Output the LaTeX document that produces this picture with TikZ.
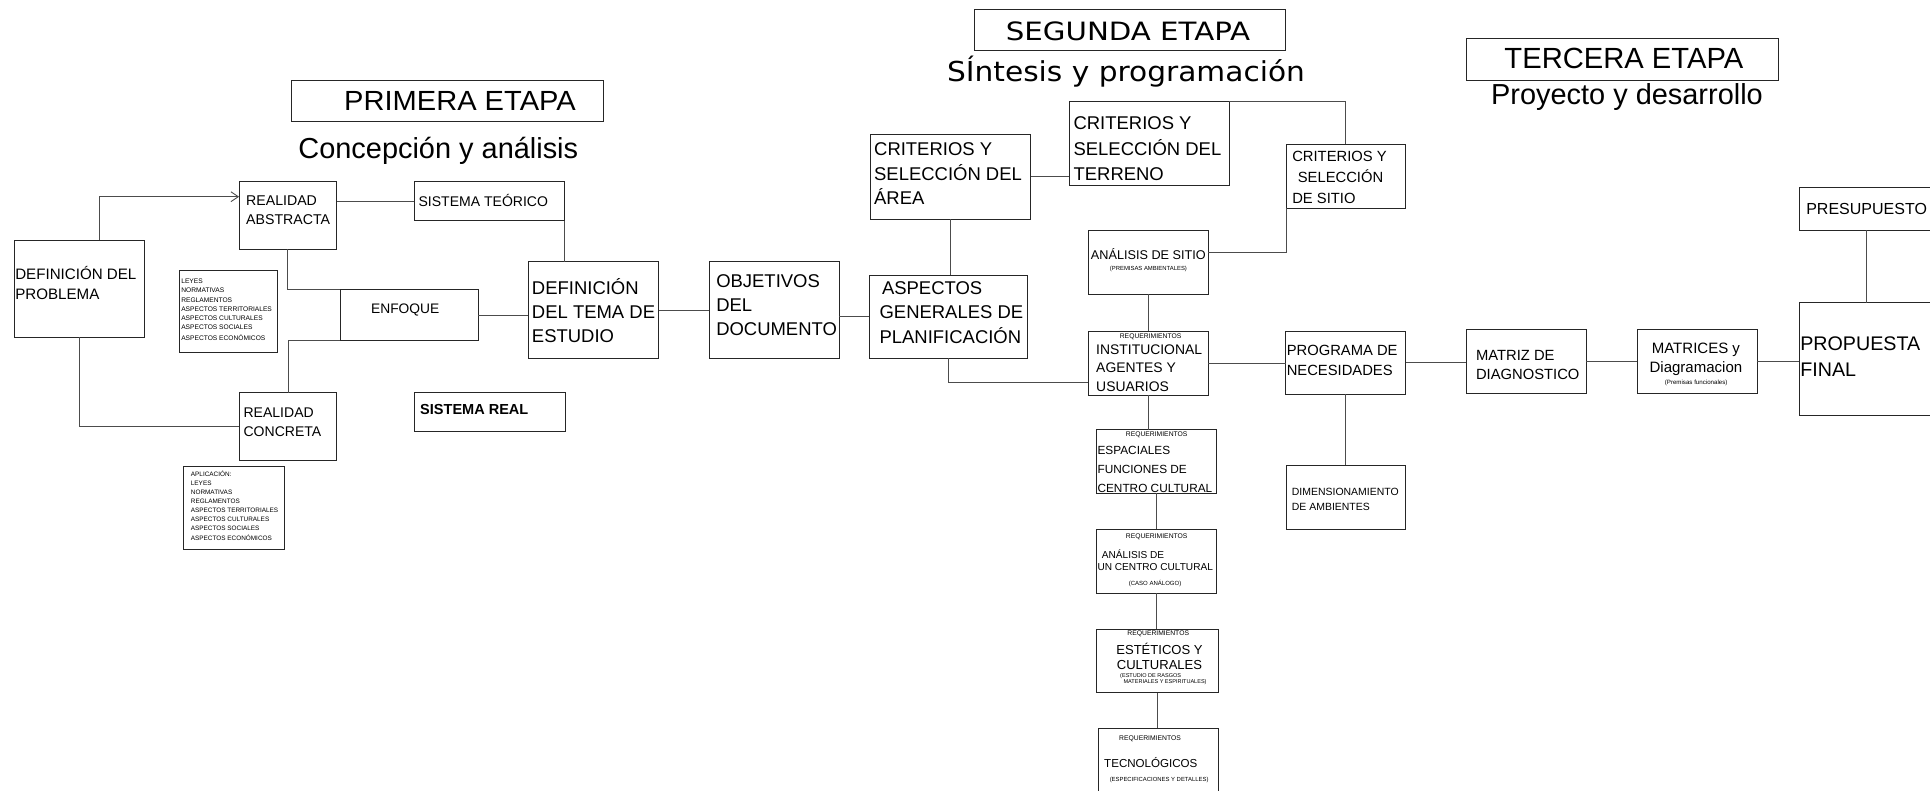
\documentclass[tikz,border=0pt]{standalone}
\usepackage{fontspec}
\setmainfont{Liberation Sans}
\newfontfamily\verdana{DejaVu Sans}
\usepackage{graphicx}
\usetikzlibrary{arrows.meta}

\newcommand{\letra}[2]{\fontsize{#1}{#2}\selectfont}

\tikzset{
  caja/.style={draw=black!85, line width=0.75pt, rectangle, anchor=north west, inner sep=0pt, outer sep=0pt},
  texto/.style={inner sep=0pt, align=left, anchor=west},
  nota/.style={inner sep=0pt, font=\letra{5.5}{6}},
  linea/.style={draw=black!70, line width=0.75pt},
}

\begin{document}
\begin{tikzpicture}[x=1pt, y=-1pt]
\useasboundingbox (0,0) rectangle (1568,642);
\clip (0,0) rectangle (1568,642);

% cajas
\foreach \n/\x/\y/\w/\h in {primera/237/65/253/33.3, segunda/791.6/7.6/252.9/33, tercera/1191.3/31.1/253.5/33.9,
    defprob/11.6/195/105.7/79, realabs/194.3/147.6/79.1/55, sisteo/336.7/147.6/122.1/31.7,
    leyes/145.8/219.4/80/66.6, enfoque/276.3/235.1/112.4/41.7, deftema/429/212.6/106/78.5,
    realcon/194.4/319/79.1/54.7, sisreal/336.6/319/122.4/31.2, aplica/149/378.6/82.5/68.2,
    objet/576/212.6/106/78.5, aspectos/706.3/223.4/128.7/67.6, area/707.4/109.1/129.9/69.1,
    terreno/868.7/82.6/129.8/68, sitio/1045.2/117.3/96.5/52, analsitio/884.2/187.4/97.5/51.5,
    inst/884.2/268.9/97.5/52, programa/1044.5/268.9/97.5/51.5, espac/891/349.3/97.5/51.5,
    analcc/891/430/97.5/52, estet/891/511.3/98.8/51.4, tecno/892.3/591.7/97.5/60,
    dimen/1044.8/377.8/96.7/52, matriz/1191.4/267.6/97.1/52, matrices/1330.2/268/97.2/51.6,
    presup/1461.8/152.2/108.4/34.7, propuesta/1461.8/245.9/108.4/91.5}
  \node[caja, minimum width=\w pt, minimum height=\h pt] (\n) at (\x,\y) {};

% titulos
\node[inner sep=0pt, font=\letra{22.5}{26}] (primera-t) at (373.7,81.9) {\scalebox{1.05}[1]{PRIMERA ETAPA}};
\node[inner sep=0pt, font=\letra{23.5}{28}, anchor=base] (concep) at (356.1,128.6) {Concepción y análisis};
\node[inner sep=0pt, font=\verdana\letra{20.5}{24}] (segunda-t) at (916.4,25.2) {\scalebox{1.16}[1]{SEGUNDA ETAPA}};
\node[inner sep=0pt, font=\verdana\letra{22.3}{26}, anchor=base] (sintesis) at (914.8,66.4) {\scalebox{1.08}[1]{SÍntesis y programación}};
\node[inner sep=0pt, font=\letra{23.7}{28}] (tercera-t) at (1319.3,47.8) {TERCERA ETAPA};
\node[inner sep=0pt, font=\letra{23.5}{28}, anchor=base] (proyecto) at (1321.8,84.5) {Proyecto y desarrollo};

% textos
\node[texto, font=\letra{12.3}{15.7}] (defprob-t) at (12.2,230) {DEFINICIÓN DEL\\PROBLEMA};
\node[texto, font=\letra{11.5}{15.4}] (realabs-t) at (199.8,171) {REALIDAD\\ABSTRACTA};
\node[texto, font=\letra{11.4}{14}] (sisteo-t) at (339.9,162.5) {SISTEMA TEÓRICO};
\node[texto, font=\letra{5.4}{7.4}] (leyes-t) at (147.1,251.7) {LEYES\\NORMATIVAS\\REGLAMENTOS\\ASPECTOS TERRITORIALES\\ASPECTOS CULTURALES\\ASPECTOS SOCIALES\\[1.6pt]ASPECTOS ECONÓMICOS};
\node[texto, font=\letra{11.2}{14}] (enfoque-t) at (301.3,251.9) {ENFOQUE};
\node[texto, font=\letra{15}{19.6}] (deftema-t) at (432,252.6) {DEFINICIÓN\\DEL TEMA DE\\ESTUDIO};
\node[texto, font=\letra{11.4}{15.4}] (realcon-t) at (197.7,343) {REALIDAD\\CONCRETA};
\node[texto, font=\bfseries\letra{11.8}{14}] (sisreal-t) at (341.2,332.6) {SISTEMA REAL};
\node[texto, font=\letra{5.2}{7.3}] (aplica-t) at (154.9,411) {APLICACIÓN:\\LEYES\\NORMATIVAS\\REGLAMENTOS\\ASPECTOS TERRITORIALES\\ASPECTOS CULTURALES\\ASPECTOS SOCIALES\\[1pt]ASPECTOS ECONÓMICOS};
\node[texto, font=\letra{15}{19.4}] (objet-t) at (581.7,248.2) {OBJETIVOS\\DEL\\DOCUMENTO};
\node[texto, font=\letra{15}{19.6}] (aspectos-t) at (714.4,253.9) {\hspace*{2pt}ASPECTOS\\GENERALES DE\\PLANIFICACIÓN};
\node[texto, font=\letra{15}{20}] (area-t) at (710,141.3) {CRITERIOS Y\\SELECCIÓN DEL\\ÁREA};
\node[texto, font=\letra{15}{20.6}] (terreno-t) at (872,120.8) {CRITERIOS Y\\SELECCIÓN DEL\\TERRENO};
\node[texto, font=\letra{12}{17.2}] (sitio-t) at (1049.7,143.9) {CRITERIOS Y\\\hspace*{4.5pt}SELECCIÓN\\DE SITIO};
\node[inner sep=0pt, font=\letra{10.3}{12}] (analsitio-t) at (933,206.2) {ANÁLISIS DE SITIO};
\node[inner sep=0pt, font=\letra{4.8}{5.5}] (analsitio-n) at (933,218.8) {(PREMISAS AMBIENTALES)};
\node[nota] (inst-r) at (934.8,273.5) {REQUERIMIENTOS};
\node[texto, font=\letra{11.3}{15.2}] (inst-t) at (890.4,299) {INSTITUCIONAL\\AGENTES Y\\USUARIOS};
\node[texto, font=\letra{12}{16.3}] (programa-t) at (1045.2,292.5) {PROGRAMA DE\\NECESIDADES};
\node[nota] (espac-r) at (939.7,353.4) {REQUERIMIENTOS};
\node[texto, font=\letra{9.6}{15.3}] (espac-t) at (891.5,381.5) {ESPACIALES\\FUNCIONES DE\\CENTRO CULTURAL};
\node[nota] (analcc-r) at (939.7,436) {REQUERIMIENTOS};
\node[texto, font=\letra{8.2}{9.5}] (analcc-t) at (891.5,455) {\hspace*{3.5pt}ANÁLISIS DE\\UN CENTRO CULTURAL};
\node[inner sep=0pt, font=\letra{4.9}{5.5}] (analcc-n) at (938.4,473.9) {(CASO ANÁLOGO)};
\node[nota] (estet-r) at (941,514.5) {REQUERIMIENTOS};
\node[inner sep=0pt, align=center, font=\letra{10.6}{12.3}] (estet-t) at (942,533.2) {ESTÉTICOS Y\\CULTURALES};
\node[texto, font=\letra{4.5}{4.6}] (estet-n) at (909.9,551.5) {(ESTUDIO DE RASGOS\\\hspace*{2.7pt}MATERIALES Y ESPIRITUALES)};
\node[nota] (tecno-r) at (934.3,599.8) {REQUERIMIENTOS};
\node[texto, font=\letra{9.4}{11}] (tecno-t) at (896.9,619.2) {TECNOLÓGICOS};
\node[inner sep=0pt, font=\letra{4.8}{5.5}] (tecno-n) at (941.7,633.7) {(ESPECIFICACIONES Y DETALLES)};
\node[texto, font=\letra{8.5}{12.2}] (dimen-t) at (1049.4,405.5) {DIMENSIONAMIENTO\\DE AMBIENTES};
\node[texto, font=\letra{12}{15.7}] (matriz-t) at (1199,296.3) {MATRIZ DE\\DIAGNOSTICO};
\node[inner sep=0pt, align=center, font=\letra{12.2}{15.4}] (matrices-t) at (1377.8,292.2) {MATRICES y\\Diagramacion};
\node[inner sep=0pt, font=\letra{5}{6}] (matrices-n) at (1378,311.4) {(Premisas funcionales)};
\node[texto, font=\letra{13}{15}] (presup-t) at (1467.3,169.8) {PRESUPUESTO};
\node[texto, font=\letra{16}{21.7}] (propuesta-t) at (1462.4,289.8) {PROPUESTA\\FINAL};

% conectores
\draw[linea, -{Straight Barb[length=6pt,width=8pt]}] ([xshift=16.5pt]defprob.north) |- ([yshift=15.3pt]realabs.west);
\draw[linea] (defprob.south) |- (realcon.west);
\draw[linea] (sisteo.west) -- (sisteo.west -| realabs.east);
\draw[linea] (sisteo.south east) -- (sisteo.south east |- deftema.north);
\draw[linea] (realabs.south) |- (enfoque.north west);
\draw[linea] (enfoque.south west) -| (realcon.north);
\draw[linea] (enfoque.east) -- (enfoque.east -| deftema.west);
\draw[linea] (deftema.east) -- (objet.west);
\draw[linea] (aspectos.west) -- (aspectos.west -| objet.east);
\draw[linea] (area.south) -- (area.south |- aspectos.north);
\draw[linea] (area.east) -- (area.east -| terreno.west);
\draw[linea] (terreno.north east) -| (sitio.north);
\draw[linea] (sitio.south west) |- ([yshift=8.2pt]analsitio.east);
\draw[linea] (analsitio.south) -- (inst.north);
\draw[linea] (aspectos.south) |- ([yshift=-16.1pt]inst.west);
\draw[linea] (inst.east) -- (inst.east -| programa.west);
\draw[linea] (inst.south) -- (inst.south |- espac.north);
\draw[linea] (espac.south) -- (analcc.north);
\draw[linea] (analcc.south) -- (analcc.south |- estet.north);
\draw[linea] (estet.south) -- (estet.south |- tecno.north);
\draw[linea] (programa.south) -- (programa.south |- dimen.north);
\draw[linea] (programa.east) -- (programa.east -| matriz.west);
\draw[linea] (matriz.east) -- (matriz.east -| matrices.west);
\draw[linea] (matrices.east) -- (matrices.east -| propuesta.west);
\draw[linea] (presup.south) -- (presup.south |- propuesta.north);
\end{tikzpicture}
\end{document}
